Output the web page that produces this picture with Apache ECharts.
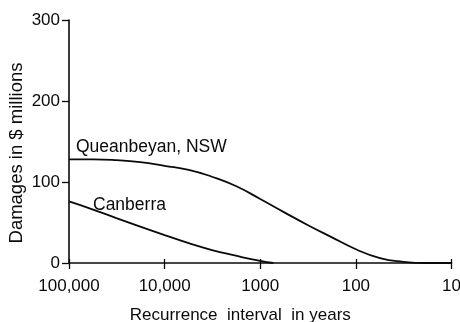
<!DOCTYPE html>
<html>
<head>
<meta charset="utf-8">
<script src="https://cdn.jsdelivr.net/npm/echarts@6/dist/echarts.min.js"></script>
<style>
html,body{margin:0;padding:0;background:#fff;}
#c{width:460px;height:322px;}
</style>
</head>
<body>
<div id="c"></div>
<script>
// Recurrence interval (years) and damages ($ millions)
var queanbeyanYears = [100000, 56000, 32000, 18000, 10000, 5600, 3200, 1800, 1000, 560, 320, 180, 100, 56, 32, 18, 10];
var queanbeyanDamages = [128, 128, 127, 124.5, 120, 115, 106.5, 95, 79, 62.5, 47, 32, 17, 6, 1.5, 0, 0];
var canberraYears = [100000, 56000, 32000, 18000, 10000, 5600, 3200, 1800, 1000, 730];
var canberraDamages = [76, 66, 55.5, 45, 34.5, 24.5, 16, 9, 2.5, 0];
var xTicks = [100000, 10000, 1000, 100, 10];
var xTickLabels = ['100,000', '10,000', '1000', '100', '10'];
var yTicks = [0, 100, 200, 300];
var seriesNames = ['Queanbeyan, NSW', 'Canberra'];

function pairs(xs, ys) { return xs.map(function (x, i) { return [x, ys[i]]; }); }

var FONT = 'Liberation Sans, Arial, Helvetica, sans-serif';
var INK = '#0a0a0a';
var chart = echarts.init(document.getElementById('c'), null, { renderer: 'canvas' });

var xBase = {
  type: 'log', logBase: 10, min: 10, max: 100000, inverse: true
};

chart.setOption({
  backgroundColor: '#fff',
  animation: false,
  grid: { left: 69, right: 8.5, top: 20, bottom: 59, containLabel: false, outerBoundsMode: 'none' },
  xAxis: [
    Object.assign({}, xBase, {
      name: 'Recurrence  interval  in years',
      nameLocation: 'middle',
      nameGap: 44,
      nameMoveOverlap: false,
      nameTextStyle: { fontFamily: FONT, fontSize: 17, color: INK, padding: [0, 40, 0, 0] },
      axisLine: { show: true, lineStyle: { color: INK, width: 1.6 } },
      axisTick: { show: true, inside: false, length: 6, lineStyle: { color: INK, width: 1.3 } },
      axisLabel: {
        fontFamily: FONT, fontSize: 17, color: INK, margin: 15,
        formatter: function (v) {
          var i = xTicks.indexOf(Math.round(v));
          return i >= 0 ? xTickLabels[i] : '';
        }
      },
      splitLine: { show: false },
      minorTick: { show: false }
    }),
    Object.assign({}, xBase, {
      position: 'bottom',
      axisLine: { show: false },
      axisTick: { show: true, inside: true, length: 4, lineStyle: { color: INK, width: 1.3 } },
      axisLabel: { show: false },
      splitLine: { show: false }
    })
  ],
  yAxis: {
    type: 'value', min: yTicks[0], max: yTicks[yTicks.length - 1], interval: 100,
    name: 'Damages in $ millions',
    nameLocation: 'middle',
    nameGap: 43,
    nameMoveOverlap: false,
    nameRotate: 90,
    nameTextStyle: { fontFamily: FONT, fontSize: 18.5, color: INK, padding: [0, 23, 0, 0] },
    axisLine: { show: true, lineStyle: { color: INK, width: 1.6 } },
    axisTick: { show: true, inside: false, length: 7, lineStyle: { color: INK, width: 1.3 } },
    axisLabel: { fontFamily: FONT, fontSize: 17, color: INK, margin: 9 },
    splitLine: { show: false }
  },
  series: [
    {
      name: seriesNames[0], type: 'line', xAxisIndex: 0,
      data: pairs(queanbeyanYears, queanbeyanDamages),
      showSymbol: false, smooth: 0.5,
      lineStyle: { color: INK, width: 1.8 },
      markPoint: {
        symbol: 'circle', symbolSize: 0, silent: true,
        data: [{ coord: [queanbeyanYears[0], queanbeyanDamages[0]] }],
        label: {
          show: true, formatter: seriesNames[0], position: [7, -12],
          align: 'left', verticalAlign: 'middle',
          fontFamily: FONT, fontSize: 17.5, color: INK
        }
      }
    },
    {
      name: seriesNames[1], type: 'line', xAxisIndex: 0,
      data: pairs(canberraYears, canberraDamages),
      showSymbol: false, smooth: 0.5,
      lineStyle: { color: INK, width: 1.8 },
      markPoint: {
        symbol: 'circle', symbolSize: 0, silent: true,
        data: [{ coord: [canberraYears[0], canberraDamages[0]] }],
        label: {
          show: true, formatter: seriesNames[1], position: [24, 4],
          align: 'left', verticalAlign: 'middle',
          fontFamily: FONT, fontSize: 17.5, color: INK
        }
      }
    }
  ]
});
</script>
</body>
</html>
